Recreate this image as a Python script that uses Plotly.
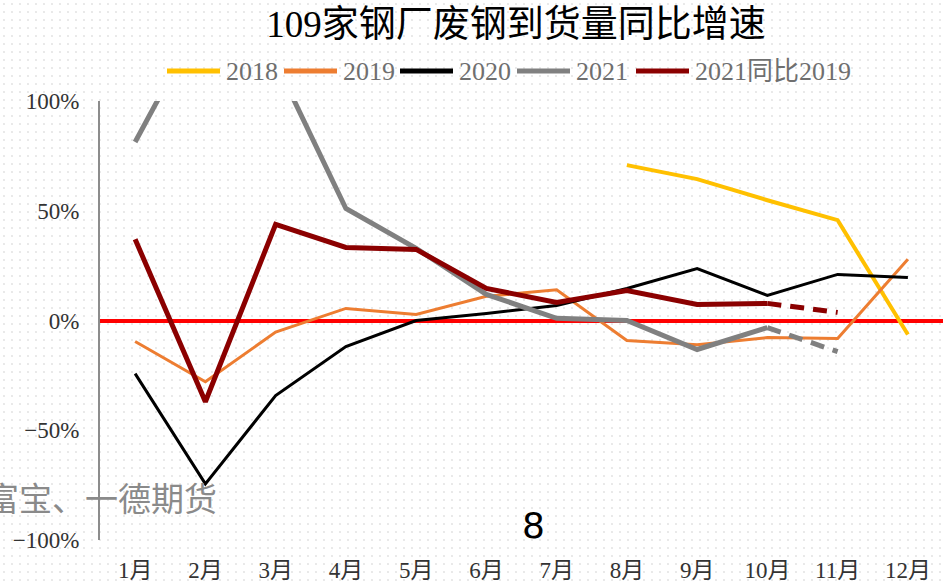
import plotly.graph_objects as go

# months on the category axis
months = ['1月', '2月', '3月', '4月', '5月', '6月', '7月', '8月', '9月', '10月', '11月', '12月']

# year-on-year growth of scrap arrivals, in %
y2018 = [None, None, None, None, None, None, None, 70.8, 64.4, 54.8, 45.7, -6.4]
y2019 = [-9.6, -27.9, -5.3, 5.5, 2.7, 11.0, 14.0, -9.1, -11.0, -7.8, -8.2, 27.9]
y2020 = [-24.2, -74.4, -34.2, -11.9, 0.0, 3.2, 6.8, 14.6, 23.7, 11.4, 21.0, 19.6]
y2021 = [81.3, 140.6, 117.8, 51.0, 32.9, 11.9, 1.0, 0.0, -13.2, -3.2]
y2021_vs_2019 = [37.0, -37.0, 43.8, 33.3, 32.4, 14.6, 8.2, 13.7, 7.3, 7.8]
# last month is an estimate, drawn dashed
y2021_est = [-3.2, -14.2]
y2021_vs_2019_est = [7.8, 3.7]
est_months = ['10月', '11月']

ytick_vals = [-100, -50, 0, 50, 100]
ytick_text = ['−100%', '−50%', '0%', '50%', '100%']

W, H = 943, 587
serif = 'Liberation Serif, Noto Sans CJK SC'

fig = go.Figure()

# dotted backdrop across the whole page (Excel pattern fill)
fig.add_trace(go.Scatter(
    x=[0, 1, 1, 0, 0], y=[0, 0, 1, 1, 0],
    fill='toself', mode='none', showlegend=False, hoverinfo='skip',
    fillpattern=dict(shape='.', size=8, solidity=0.03, fgcolor='#cccccc',
                     bgcolor='white', fillmode='replace'),
    xaxis='x', yaxis='y'))

series = [
    ('2018', y2018, '#FFC000', 4),
    ('2019', y2019, '#ED7D31', 3),
    ('2020', y2020, '#000000', 3),
    ('2021', y2021, '#808080', 5),
    ('2021同比2019', y2021_vs_2019, '#8B0000', 5),
]
for name, vals, color, width in series:
    fig.add_trace(go.Scatter(
        x=months[:len(vals)], y=vals, name=name, mode='lines',
        line=dict(color=color, width=width), showlegend=False,
        xaxis='x2', yaxis='y2'))

fig.add_trace(go.Scatter(x=est_months, y=y2021_est, mode='lines', showlegend=False,
                         line=dict(color='#808080', width=5, dash='14px,9px'),
                         xaxis='x2', yaxis='y2'))
fig.add_trace(go.Scatter(x=est_months, y=y2021_vs_2019_est, mode='lines', showlegend=False,
                         line=dict(color='#8B0000', width=5, dash='14px,9px'),
                         xaxis='x2', yaxis='y2'))

# legend drawn by hand so the samples and spacing match the original
legend_x = [167, 284, 400, 517, 636]
shapes, annotations = [], []
for (name, _, color, _), lx in zip(series, legend_x):
    shapes.append(dict(type='line', xref='paper', yref='paper',
                       x0=lx / W, x1=(lx + 53) / W, y0=1 - 71 / H, y1=1 - 71 / H,
                       line=dict(color=color, width=5)))
    annotations.append(dict(text=name, x=(lx + 57) / W, y=1 - 72 / H, xref='paper', yref='paper',
                            xanchor='left', yanchor='middle', showarrow=False,
                            font=dict(family=serif, size=26, color='#6f6f6f')))

annotations += [
    dict(text='富宝、一德期货', x=101 / W, y=1 - 497 / H, xref='paper', yref='paper',
         xanchor='center', yanchor='middle', showarrow=False,
         font=dict(family='Noto Sans CJK SC', size=33, color='#8a8a8a')),
    dict(text='8', x=533 / W, y=1 - 525 / H, xref='paper', yref='paper',
         xanchor='center', yanchor='middle', showarrow=False,
         font=dict(family='DejaVu Sans', size=36, color='#000000')),
]

fig.update_layout(
    template='none',
    width=W, height=H,
    margin=dict(l=0, r=0, t=0, b=0),
    paper_bgcolor='white', plot_bgcolor='rgba(0,0,0,0)',
    showlegend=False,
    title=dict(text='109家钢厂废钢到货量同比增速', x=516 / W, xanchor='center',
               y=1 - 24 / H, yanchor='middle',
               font=dict(family=serif, size=37, color='#000000')),
    xaxis=dict(domain=[0, 1], range=[0, 1], visible=False, fixedrange=True),
    yaxis=dict(domain=[0, 1], range=[0, 1], visible=False, fixedrange=True),
    xaxis2=dict(domain=[100 / W, 1], anchor='y2', type='category',
                categoryorder='array', categoryarray=months, range=[-0.5, 11.5],
                showgrid=False, showline=False, zeroline=False, ticks='', ticklabelstandoff=14,
                tickfont=dict(family=serif, size=23, color='#333333')),
    yaxis2=dict(domain=[47 / H, 486 / H], anchor='x2', range=[-100, 100],
                tickmode='array', tickvals=ytick_vals, ticktext=ytick_text,
                showgrid=False, showline=True, linecolor='#8c8c8c', linewidth=2,
                zeroline=True, zerolinecolor='#FF0000', zerolinewidth=4,
                ticks='', ticklabelstandoff=14,
                tickfont=dict(family=serif, size=23, color='#333333')),
    shapes=shapes,
    annotations=annotations,
)

fig.write_html('out.html', config={'displayModeBar': False},
               post_script="document.body.style.margin='0';")
